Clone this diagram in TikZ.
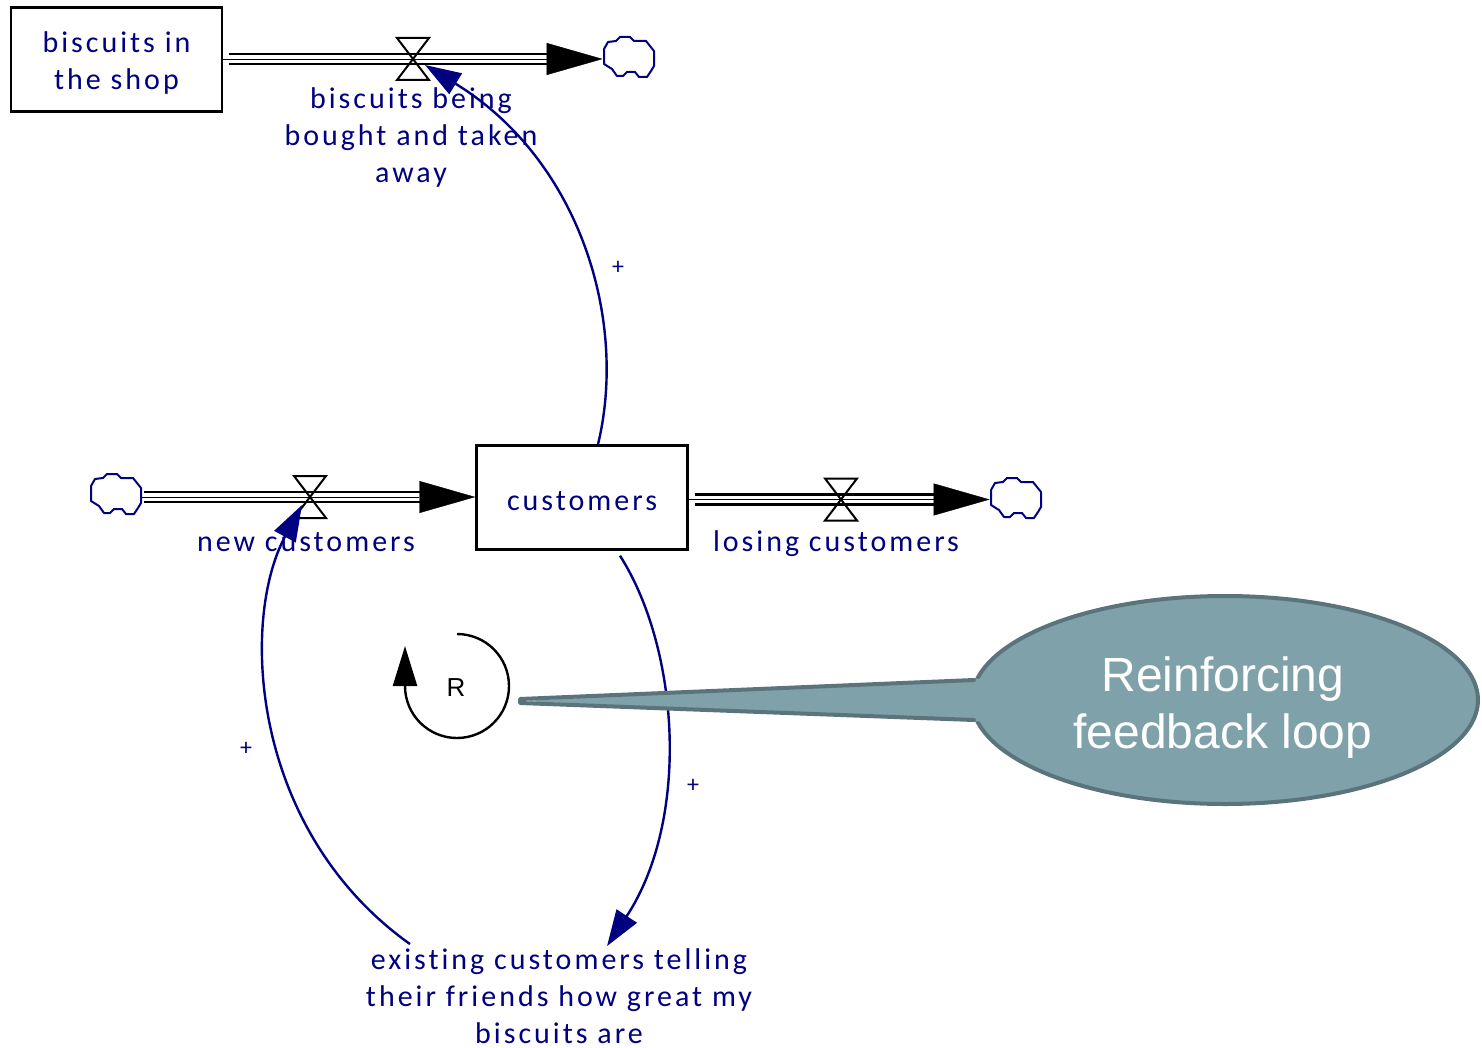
\documentclass[tikz,border=0pt]{standalone}
\usepackage{fontspec}
\setmainfont{Carlito}[LetterSpace=10,Ligatures=NoCommon]
\newfontfamily\arialfont{Liberation Sans}
\usetikzlibrary{arrows.meta,shapes.geometric,calc}
\definecolor{vnavy}{RGB}{0,0,128}
\definecolor{callfill}{RGB}{127,161,170}
\definecolor{callline}{RGB}{91,115,123}

\begin{document}
\begin{tikzpicture}[x=0.5pt,y=-0.5pt,
  stock/.style={draw=black,line width=1.2pt,fill=white,minimum width=105.5pt,
    minimum height=52pt,inner sep=0pt},
  lbl/.style={text=vnavy,align=center,inner sep=0pt,
    font=\fontsize{15}{18.5}\selectfont},
  pipe/.style={draw=black,line width=1.4pt,double=white,double distance=3.6pt},
  flowtip/.style={draw=black,line width=0.2pt,-{Triangle[length=28pt,width=16pt]}},
  link/.style={draw=vnavy,line width=1.2pt,-{Triangle[length=18pt,width=12pt]}},
  pol/.style={text=vnavy,inner sep=0pt,font=\fontsize{12}{12}\selectfont},
  cloudnode/.style={minimum width=26pt,minimum height=21pt,inner sep=0pt},
  cloud/.pic={
    \draw[vnavy,line width=1pt,line join=round]
      (-25,-9) -- (-21,-16) -- (-13,-17) -- (-9,-21) -- (1,-21) -- (5,-17)
      -- (17,-17) -- (21,-12) -- (25,-7) -- (25,8) -- (22,13) -- (18,19)
      -- (10,19) -- (6,14) -- (-2,14) -- (-6,18) -- (-12,18) -- (-17,11)
      -- (-25,6) -- cycle;
  },
  valve/.pic={
    \draw[black,line width=1pt,line join=miter]
      (-16,-21) -- (16,-21) -- (0,0) -- cycle
      (-16,21) -- (16,21) -- (0,0) -- cycle;
  },
]
\useasboundingbox (0,0) rectangle (1482,1048);

% stocks
\node[stock] (shop) at (116.5,59.5) {};
\node[stock] (cust) at (582,497.5) {};
\node[lbl] (shoplbl) at ($(shop)+(0,4)$) {biscuits in\\the shop};
\node[lbl] (custlbl) at ($(cust)+(0,4)$) {customers};

% clouds (sources and sinks)
\node[cloudnode] (c1) at (629,58) {};
\node[cloudnode] (c2) at (116,495) {};
\node[cloudnode] (c3) at (1016,499) {};
\pic at (c1) {cloud};
\pic at (c2) {cloud};
\pic at (c3) {cloud};

% valve positions
\coordinate (v1) at (413,59);
\coordinate (v2) at (310,497);
\coordinate (v3) at (841,499.5);

% flow pipes
\draw[pipe,shorten <=3pt,shorten >=27pt] (shop.east |- v1) -- (c1.west |- v1);
\draw[flowtip] (shop.east |- v1) -- (c1.west |- v1);
\draw[pipe,shorten <=1pt,shorten >=27pt] (c2.east |- v2) -- (cust.west |- v2);
\draw[flowtip] (c2.east |- v2) -- (cust.west |- v2);
\draw[pipe,shorten <=3pt,shorten >=27pt] (cust.east |- v3) -- (c3.west |- v3);
\draw[flowtip] (cust.east |- v3) -- (c3.west |- v3);

\pic at (v1) {valve};
\pic at (v2) {valve};
\pic at (v3) {valve};

% labels
\node[lbl] (outlbl) at (411,138) {biscuits being\\bought and taken\\away};
\node[lbl] (newlbl) at (306,542) {new customers};
\node[lbl] (loselbl) at (836,544) {losing customers};
\node[lbl] (ex) at (559,996) {existing customers telling\\their friends how great my\\biscuits are};

% causal links
\coordinate (l1s) at ($(cust.north)+(16,0)$);
\coordinate (l1e) at ($(v1)+(12,6)$);
\draw[link] (l1s) .. controls (628,320) and (580,160) .. (l1e);
\coordinate (l2s) at ($(cust.south)+(38,5)$);
\coordinate (l2e) at ($(ex.north)+(48,-2)$);
\draw[link] (l2s) .. controls (680,650) and (690,820) .. (l2e);
\coordinate (l3s) at ($(ex.north)+(-149,-4)$);
\coordinate (l3e) at ($(v2)+(-8,8)$);
\draw[link] (l3s) .. controls (250,830) and (240,620) .. (l3e);

\node[pol] (p1) at (618,268) {+};
\node[pol] (p2) at (693,786) {+};
\node[pol] (p3) at (246,749) {+};

% loop marker
\coordinate (loop) at (457,686);
\draw[black,line width=1.2pt,-{Triangle[length=20pt,width=12pt]}]
  ($(loop)+(0,-52)$) arc[start angle=-90,end angle=180,radius=52] -- ++(0,-40);
\node[inner sep=0pt,font=\arialfont\fontsize{13}{13}\selectfont] (rlbl) at (456,688) {R};

% callout
\coordinate (tip) at (520,701);
\node[ellipse,fill=callfill,draw=callline,line width=2pt,minimum width=253pt,
  minimum height=104pt,inner sep=0pt] (call) at (1225,700) {};
\node[text=white,align=center,inner sep=0pt,
  font=\arialfont\fontsize{24}{28.5}\selectfont] (calltext) at ($(call)+(-2,8)$)
  {Reinforcing\\feedback loop};
\fill[callfill] (tip) -- ($(call.west)+(20,-22)$) -- ($(call.west)+(20,22)$) -- cycle;
\draw[callline,line width=2pt,line join=round,line cap=round]
  ($(call.west)+(4,-20)$) -- ($(tip)+(0,-2)$) -- ($(tip)+(0,2)$) -- ($(call.west)+(4,20)$);
\end{tikzpicture}
\end{document}
